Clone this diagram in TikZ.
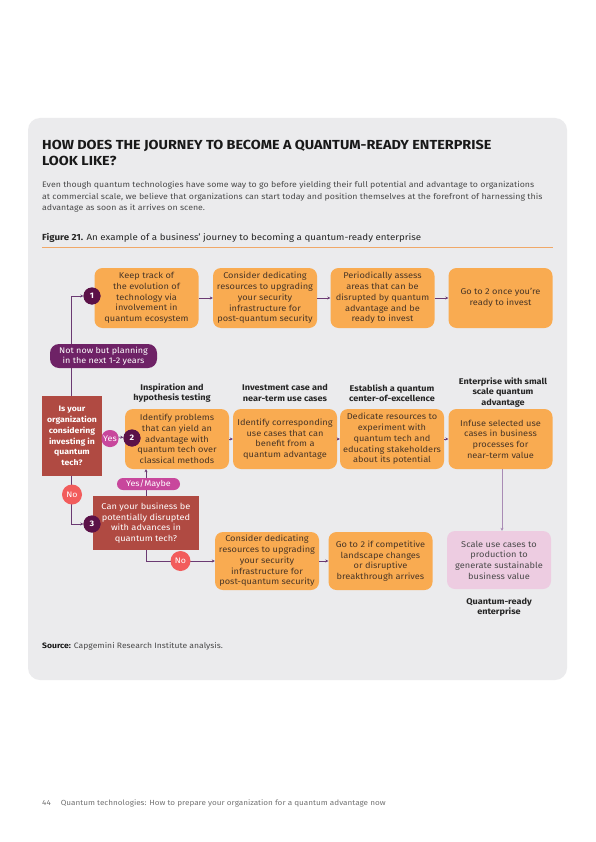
\documentclass[tikz,border=0pt]{standalone}
\usepackage{fontspec}
\setmainfont{Fira Sans}[FakeStretch=1.1]
\usetikzlibrary{arrows.meta,positioning}
\definecolor{panel}{HTML}{EBEBED}
\definecolor{orng}{HTML}{F9AB51}
\definecolor{orngtxt}{HTML}{4A3626}
\definecolor{qred}{HTML}{B04A42}
\definecolor{dpurp}{HTML}{5B1148}
\definecolor{mpurp}{HTML}{6E2266}
\definecolor{yespink}{HTML}{C8479C}
\definecolor{nored}{HTML}{F25C5C}
\definecolor{pinkbox}{HTML}{EDCCE1}
\definecolor{conn}{HTML}{6B3A73}
\definecolor{lconn}{HTML}{A98BB5}
\definecolor{rule}{HTML}{F0A868}
\definecolor{bodytxt}{HTML}{4A4A4A}
\tikzset{
  stepbox/.style={rectangle, rounded corners=8pt, fill=orng, text=orngtxt, minimum width=104pt, minimum height=60pt, align=center, inner sep=0pt, font=\fontsize{8.4}{10.7}\selectfont},
  qbox/.style={rectangle, fill=qred, text=white, align=center, inner sep=0pt, font=\fontsize{8.4}{10.7}\selectfont},
  numcirc/.style={circle, fill=dpurp, text=white, minimum size=17pt, inner sep=0pt, font=\bfseries\fontsize{8}{9}\selectfont},
  nocirc/.style={circle, fill=nored, text=white, minimum size=20pt, inner sep=0pt, font=\fontsize{8}{9}\selectfont},
  pill/.style={rectangle, rounded corners=6pt, text=white, align=center, inner sep=0pt, font=\fontsize{8.2}{9.8}\selectfont},
  stagelbl/.style={align=center, font=\bfseries\fontsize{8.3}{10.5}\selectfont, text=black!85},
  conn/.style={draw=conn, line width=0.7pt},
  arr/.style={conn, -{Stealth[length=3pt,width=3pt]}},
}
\begin{document}
\begin{tikzpicture}[x=1pt,y=-1pt]
\useasboundingbox (0,0) rectangle (596,842);
\fill[white] (0,0) rectangle (596,842);
\fill[panel, rounded corners=12pt] (28,118) rectangle (567,680);

% header text
\node[anchor=north west, align=left, inner sep=0pt, font=\bfseries\fontsize{13.1}{15.5}\selectfont, text=black!90] (title) at (42,140)
  {HOW DOES THE JOURNEY TO BECOME A QUANTUM-READY ENTERPRISE\\LOOK LIKE?};
\node[anchor=north west, align=left, inner sep=0pt, font=\fontsize{8}{11.6}\selectfont, text=bodytxt] (intro) at (42,181)
  {Even though quantum technologies have some way to go before yielding their full potential and advantage to organizations\\
   at commercial scale, we believe that organizations can start today and position themselves at the forefront of harnessing this\\
   advantage as soon as it arrives on scene.};
\node[anchor=west, inner sep=0pt, font=\fontsize{8.85}{9}\selectfont, text=black!85] (cap) at (42,237.5)
  {\textbf{Figure 21.} An example of a business' journey to becoming a quantum-ready enterprise};
\draw[rule, line width=0.8pt] (42,247) -- (553,247);

% row 1
\node[stepbox] (r1a) at (146.5,298) {Keep track of\\the evolution of\\technology via\\involvement in\\quantum ecosystem};
\node[stepbox] (r1b) at (265,298) {Consider dedicating\\resources to upgrading\\your security\\infrastructure for\\post-quantum security};
\node[stepbox] (r1c) at (382.5,298) {Periodically assess\\areas that can be\\disrupted by quantum\\advantage and be\\ready to invest};
\node[stepbox] (r1d) at (500.5,298) {Go to 2 once you're\\ready to invest};

% row 2
\node[stepbox] (r2a) at (177,439) {Identify problems\\that can yield an\\advantage with\\quantum tech over\\classical methods};
\node[stepbox] (r2b) at (285,439) {Identify corresponding\\use cases that can\\benefit from a\\quantum advantage};
\node[stepbox] (r2c) at (392,439) {Dedicate resources to\\experiment with\\quantum tech and\\educating stakeholders\\about its potential};
\node[stepbox] (r2d) at (500.5,439) {Infuse selected use\\cases in business\\processes for\\near-term value};

% stage labels
\node[stagelbl] (s1) at (172,393) {Inspiration and\\hypothesis testing};
\node[stagelbl] (s2) at (285,393) {Investment case and\\near-term use cases};
\node[stagelbl] (s3) at (392,393) {Establish a quantum\\center-of-excellence};
\node[stagelbl] (s4) at (503,392.5) {Enterprise with small\\scale quantum\\advantage};

% row 3
\node[stepbox, minimum height=58pt] (r3a) at (267,561) {Consider dedicating\\resources to upgrading\\your security\\infrastructure for\\post-quantum security};
\node[stepbox, minimum height=58pt] (r3b) at (380.5,561) {Go to 2 if competitive\\landscape changes\\or disruptive\\breakthrough arrives};
\node[stepbox, minimum height=58pt, fill=pinkbox, text=bodytxt] (r3c) at (499,560) {Scale use cases to\\production to\\generate sustainable\\business value};
\node[stagelbl] (s5) at (499,607.5) {Quantum-ready\\enterprise};

% question boxes
\node[qbox, minimum width=60pt, minimum height=80pt, font=\bfseries\fontsize{7.9}{10.7}\selectfont] (q1) at (72,436) {Is your\\organization\\considering\\investing in\\quantum\\tech?};
\node[qbox, minimum width=106pt, minimum height=54pt] (q3) at (146,523) {Can your business be\\potentially disrupted\\with advances in\\quantum tech?};

% coordinates for elbows
\coordinate (e1) at (71,296);
\coordinate (e3) at (71,524);
\coordinate (q1n) at (71,396);
\coordinate (q1s) at (71,476);
\coordinate (q3s) at (146,561);

% number circles
\node[numcirc] (c1) at (92,296) {1};
\node[numcirc] (c2) at (132,438) {2};
\node[numcirc] (c3) at (92,524) {3};

% connectors
\draw[arr] (q1n) -- (e1) -- (c1);
\draw[arr] (q1s) -- (e3) -- (c3);
\draw[arr] (q1.east) -- (c2);
\draw[arr] (r1a) -- (r1b);
\draw[arr] (r1b) -- (r1c);
\draw[arr] (r1c) -- (r1d);
\draw[arr] (r2a) -- (r2b);
\draw[arr] (r2b) -- (r2c);
\draw[arr] (r2c) -- (r2d);
\draw[arr] (q3.north) -- (q3.north |- r2a.south);
\draw[arr] (q3.south) -- (q3s) -- (r3a.west |- q3s);
\draw[arr] (r3a) -- (r3b);
\draw[conn, draw=lconn, -{Stealth[length=3pt,width=3pt]}] (r2d.south -| 502,0) -- (r3c.north -| 502,0);

% redraw circles on top
\node[numcirc] at (c1) {1};
\node[numcirc] at (c2) {2};
\node[numcirc] at (c3) {3};

% pills
\node[pill, fill=mpurp, minimum width=107pt, minimum height=24pt, rounded corners=9pt] (p1) at (103.5,356) {Not now but planning\\in the next 1-2 years};
\node[pill, fill=yespink, minimum width=17pt, minimum height=17pt, rounded corners=8pt] (yes) at (110,438.5) {Yes};
\node[pill, fill=yespink, minimum width=63pt, minimum height=12pt, rounded corners=6pt] (ym) at (148.5,484) {Yes/Maybe};
\node[nocirc] (no1) at (72,494.5) {No};
\node[nocirc] (no2) at (180.5,561) {No};

% source and footer
\node[anchor=west, inner sep=0pt, font=\fontsize{7.8}{9}\selectfont, text=bodytxt] (src) at (42,646.5) {\textbf{\color{black!90}Source:} Capgemini Research Institute analysis.};
\node[anchor=west, inner sep=0pt, font=\fontsize{7.4}{8}\selectfont, text=black!55] (foot) at (42,803) {44\hspace{10pt}Quantum technologies: How to prepare your organization for a quantum advantage now};
\end{tikzpicture}
\end{document}
